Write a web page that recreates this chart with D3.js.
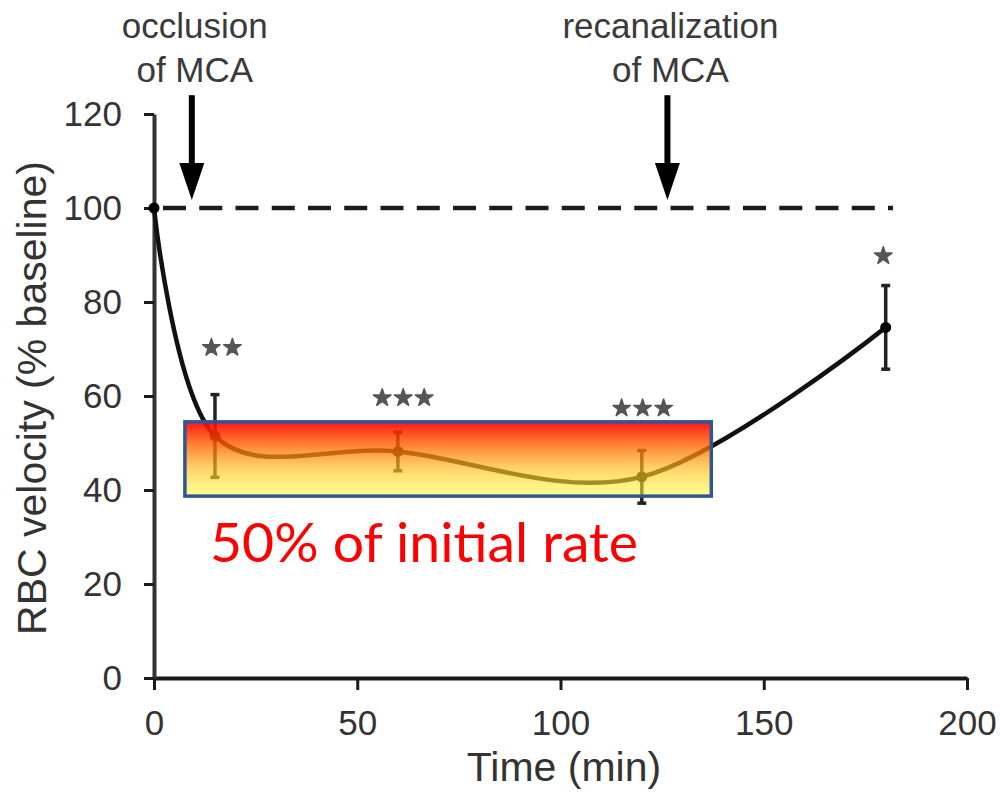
<!DOCTYPE html>
<html>
<head>
<meta charset="utf-8">
<script src="https://cdn.jsdelivr.net/npm/d3@7"></script>
<style>
  body { margin: 0; background: #fff; }
  text { font-family: 'Liberation Sans', Arial, sans-serif; }
</style>
</head>
<body>
<div id="chart"></div>
<script>
// Data.
const times = [0, 15, 60, 120, 180];
const velocity = [100, 51.5, 48.2, 42.8, 74.6];
const errors = [0, 8.8, 4.1, 5.6, 8.9];
const stars = ['', '**', '***', '***', '*'];
const starTimes = [0, 16.7, 61.3, 120.2, 179.4];
const starLevels = [0, 70.3, 59.6, 57.4, 89.8];
const xTicks = [0, 50, 100, 150, 200];
const yTicks = [0, 20, 40, 60, 80, 100, 120];
const baselineLevel = 100;
const baselineEnd = 181.8;
const eventTimes = [9.3, 126.3];
const eventLabels = [['occlusion', 'of MCA'], ['recanalization', 'of MCA']];
const bandTimes = [7.6, 137.1];
const bandLevels = [38.7, 54.5];
const bandLabel = '50% of initial rate';

const width = 1000;
const height = 793;

const x = d3.scaleLinear().domain([0, 200]).range([154, 967]);
const y = d3.scaleLinear().domain([0, 120]).range([678, 114]);

const svg = d3.select('#chart')
  .append('svg')
  .attr('width', width)
  .attr('height', height);

svg.append('rect').attr('width', width).attr('height', height).attr('fill', '#fff');

// Axes.
const xAxis = svg.append('g')
  .attr('transform', `translate(0,${y(0)})`)
  .call(d3.axisBottom(x).tickValues(xTicks).tickSize(12).tickPadding(20).tickSizeOuter(0));
xAxis.select('.domain').attr('stroke', '#1a1a1a').attr('stroke-width', 4);
xAxis.selectAll('.tick line').attr('stroke', '#1a1a1a').attr('stroke-width', 3);
xAxis.selectAll('.tick text')
  .attr('fill', '#333')
  .style('font-size', '35px')
  .style('font-family', "'Liberation Sans', Arial, sans-serif");

const yAxis = svg.append('g')
  .attr('transform', `translate(${x(0)},0)`)
  .call(d3.axisLeft(y).tickValues(yTicks).tickSize(10).tickPadding(22).tickSizeOuter(0));
yAxis.select('.domain').attr('stroke', '#333').attr('stroke-width', 4);
yAxis.selectAll('.tick line').attr('stroke', '#1a1a1a').attr('stroke-width', 3);
yAxis.selectAll('.tick text')
  .attr('fill', '#333')
  .style('font-size', '35px')
  .style('font-family', "'Liberation Sans', Arial, sans-serif");

svg.append('text')
  .attr('transform', `translate(46,${(y(0) + y(120)) / 2 + 2}) rotate(-90)`)
  .attr('text-anchor', 'middle')
  .attr('fill', '#333')
  .style('font-size', '41px')
  .text('RBC velocity (% baseline)');

svg.append('text')
  .attr('x', 564)
  .attr('y', 781)
  .attr('text-anchor', 'middle')
  .attr('fill', '#333')
  .style('font-size', '41px')
  .text('Time (min)');

// Baseline.
svg.append('line')
  .attr('x1', x(0))
  .attr('x2', x(baselineEnd))
  .attr('y1', y(baselineLevel))
  .attr('y2', y(baselineLevel))
  .attr('stroke', '#1a1a1a')
  .attr('stroke-width', 4.5)
  .attr('stroke-dasharray', '23,13.25')
  .attr('stroke-dashoffset', 27.25);

// Event arrows and labels.
eventTimes.forEach((t, i) => {
  const ax = x(t);
  const tip = y(101.7);
  const top = y(124);
  svg.append('line')
    .attr('x1', ax).attr('x2', ax)
    .attr('y1', top).attr('y2', tip - 30)
    .attr('stroke', '#000')
    .attr('stroke-width', 6);
  svg.append('path')
    .attr('d', `M${ax - 12.5},${tip - 37} L${ax + 12.5},${tip - 37} L${ax},${tip} Z`)
    .attr('fill', '#000');
  eventLabels[i].forEach((line, j) => {
    svg.append('text')
      .attr('x', ax + 3)
      .attr('y', 38 + j * 44)
      .attr('text-anchor', 'middle')
      .attr('fill', '#3a3a3a')
      .style('font-size', '35px')
      .text(line);
  });
});

// Data line.
const points = times.map((t, i) => ({ t, v: velocity[i], e: errors[i] }));

svg.append('path')
  .datum(points)
  .attr('fill', 'none')
  .attr('stroke', '#111')
  .attr('stroke-width', 4.5)
  .attr('d', d3.line().x(d => x(d.t)).y(d => y(d.v)).curve(d3.curveCardinal.tension(0)));

const bars = svg.append('g')
  .attr('stroke', '#222')
  .attr('stroke-width', 3.5)
  .selectAll('g')
  .data(points.filter(d => d.e > 0))
  .join('g');

bars.append('line')
  .attr('x1', d => x(d.t)).attr('x2', d => x(d.t))
  .attr('y1', d => y(d.v + d.e)).attr('y2', d => y(d.v - d.e));
bars.append('line')
  .attr('x1', d => x(d.t) - 4.5).attr('x2', d => x(d.t) + 4.5)
  .attr('y1', d => y(d.v + d.e)).attr('y2', d => y(d.v + d.e));
bars.append('line')
  .attr('x1', d => x(d.t) - 4.5).attr('x2', d => x(d.t) + 4.5)
  .attr('y1', d => y(d.v - d.e)).attr('y2', d => y(d.v - d.e));

svg.append('g')
  .selectAll('circle')
  .data(points)
  .join('circle')
  .attr('cx', d => x(d.t))
  .attr('cy', d => y(d.v))
  .attr('r', 5.5)
  .attr('fill', '#000');

// Significance stars.
const starSpacing = 21;
stars.forEach((s, i) => {
  const n = s.length;
  for (let k = 0; k < n; k++) {
    const cx = x(starTimes[i]) + (k - (n - 1) / 2) * starSpacing;
    svg.append('path')
      .attr('transform', `translate(${cx},${y(starLevels[i])})`)
      .attr('d', d3.symbol(d3.symbolStar, 95)())
      .attr('fill', '#555')
      .attr('stroke', '#555')
      .attr('stroke-width', 1.5)
      .attr('stroke-linejoin', 'round');
  }
});

// Highlight band.
const defs = svg.append('defs');
const grad = defs.append('linearGradient')
  .attr('id', 'fire')
  .attr('x1', 0).attr('y1', 0).attr('x2', 0).attr('y2', 1);
[
  [0, 'rgb(255,0,0)', 0.92],
  [0.3, 'rgb(255,95,0)', 0.8],
  [0.65, 'rgb(255,195,30)', 0.66],
  [1, 'rgb(255,255,60)', 0.55]
].forEach(([o, c, a]) => {
  grad.append('stop').attr('offset', o).attr('stop-color', c).attr('stop-opacity', a);
});

svg.append('rect')
  .attr('x', x(bandTimes[0]))
  .attr('y', y(bandLevels[1]))
  .attr('width', x(bandTimes[1]) - x(bandTimes[0]))
  .attr('height', y(bandLevels[0]) - y(bandLevels[1]))
  .attr('fill', 'url(#fire)')
  .attr('stroke', '#2F5597')
  .attr('stroke-width', 3.5);

svg.append('text')
  .attr('x', 210)
  .attr('y', 562)
  .attr('fill', '#ff0000')
  .attr('textLength', 428)
  .attr('lengthAdjust', 'spacingAndGlyphs')
  .style('font-family', "Lato, 'Open Sans', sans-serif")
  .style('font-size', '54px')
  .text(bandLabel);
</script>
</body>
</html>
